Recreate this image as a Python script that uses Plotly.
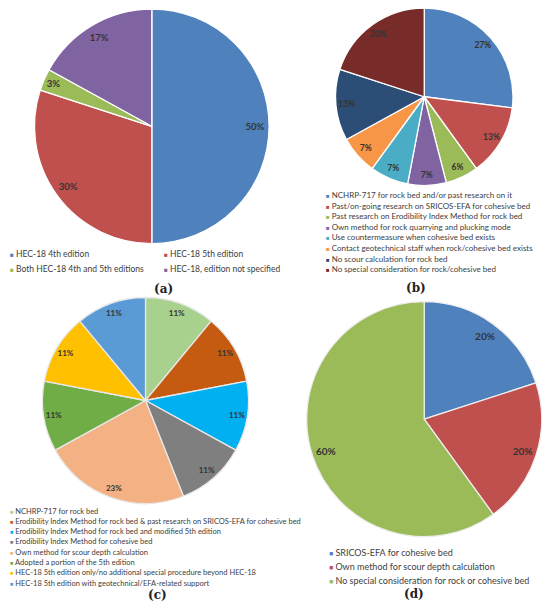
import plotly.graph_objects as go

# the page body adds an 8px margin, so the figure is drawn 8px smaller
OFF = 8
W, H = 550 - OFF, 612 - OFF

# (a) which HEC-18 edition is used
a_labels = ["HEC-18 4th edition", "HEC-18 5th edition",
            "Both HEC-18 4th and 5th editions", "HEC-18, edition not specified"]
a_values = [50, 30, 3, 17]
a_colors = ["#4F81BD", "#C0504D", "#9BBB59", "#8064A2"]

# (b) rock / cohesive bed practice
b_labels = ["NCHRP-717 for rock bed and/or past research on it",
            "Past/on-going research on SRICOS-EFA for cohesive bed",
            "Past research on Erodibility Index Method for rock bed",
            "Own method for rock quarrying and plucking mode",
            "Use countermeasure when cohesive bed exists",
            "Contact geotechnical staff when rock/cohesive bed exists",
            "No scour calculation for rock bed",
            "No special consideration for rock/cohesive bed"]
b_values = [27, 13, 6, 7, 7, 7, 13, 20]
b_colors = ["#4F81BD", "#C0504D", "#9BBB59", "#8064A2",
            "#4BACC6", "#F79646", "#2C4D75", "#772C2A"]

# (c)
c_labels = ["NCHRP-717 for rock bed",
            "Erodibility Index Method for rock bed & past research on SRICOS-EFA for cohesive bed",
            "Erodibility Index Method for rock bed and modified 5th edition",
            "Erodibility Index Method for cohesive bed",
            "Own method for scour depth calculation",
            "Adopted a portion of the 5th edition",
            "HEC-18 5th edition only/no additional special procedure beyond HEC-18",
            "HEC-18 5th edition with geotechnical/EFA-related support"]
c_values = [11, 11, 11, 11, 23, 11, 11, 11]
c_colors = ["#A9D18E", "#C55A11", "#00B0F0", "#7F7F7F",
            "#F4B183", "#70AD47", "#FFC000", "#5B9BD5"]

# (d)
d_labels = ["SRICOS-EFA for cohesive bed",
            "Own method for scour depth calculation",
            "No special consideration for rock or cohesive bed"]
d_values = [20, 20, 60]
d_colors = ["#4F81BD", "#C0504D", "#9BBB59"]

panel_names = ["(a)", "(b)", "(c)", "(d)"]

fig = go.Figure()


def px(x):
    return (x - OFF) / W


def py(y):
    return 1 - (y - OFF) / H


def clip(v):
    return min(1, max(0, v))


def add_pie(labels, values, colors, box, hole, size, edge):
    x0, y0, x1, y1 = box  # pixel box on the page, y measured from the top
    dom = dict(x=[clip(px(x0)), clip(px(x1))], y=[clip(py(y1)), clip(py(y0))])
    fig.add_trace(go.Pie(labels=labels, values=values, domain=dom, sort=False,
                         direction="clockwise", textinfo="none", showlegend=False,
                         marker=dict(colors=colors, line=dict(color=edge, width=1.3))))
    # see-through ring on top, it only carries the % labels out near the rim
    fig.add_trace(go.Pie(labels=labels, values=values, domain=dom, sort=False,
                         direction="clockwise", hole=hole, showlegend=False,
                         hoverinfo="skip",
                         marker=dict(colors=["rgba(0,0,0,0)"] * len(values),
                                     line=dict(width=0)),
                         texttemplate="<b>%{value}%</b>", textposition="inside",
                         insidetextorientation="horizontal",
                         textfont=dict(family="Lato", size=size, color="#333333")))


def add_legend(labels, colors, x, y, dy, size, cols=1, colw=0):
    for i, (lab, col) in enumerate(zip(labels, colors)):
        r, c = divmod(i, cols)
        fig.add_annotation(x=px(x + c * colw), y=py(y + r * dy),
                           xref="paper", yref="paper", xanchor="left", yanchor="middle",
                           showarrow=False,
                           text=f"<span style='color:{col};font-size:{size * 0.75:.1f}px'>■</span> {lab}",
                           font=dict(family="Lato", size=size, color="#404040"))


add_pie(a_labels, a_values, a_colors, (34.5, 9, 269.1, 243.6), 0.76, 9.5, "white")
add_pie(b_labels, b_values, b_colors, (335.5, 8, 513, 185.5), 0.76, 8.5, "white")
add_pie(c_labels, c_values, c_colors, (42.5, 297.5, 248.5, 503.5), 0.80, 8, "#E8E8E8")
add_pie(d_labels, d_values, d_colors, (306.7, 301.7, 541.7, 536.7), 0.76, 10, "#EDEDED")

add_legend(a_labels, a_colors, 8, 254, 15, 8.5, cols=2, colw=154)
add_legend(b_labels, b_colors, 324, 195, 10.6, 8)
add_legend(c_labels, c_colors, 8, 511, 10.3, 7.5)
add_legend(d_labels, d_colors, 327, 552.7, 14, 9)

for name, (lx, ly) in zip(panel_names, [(152, 289), (428, 288), (146, 604), (426, 603)]):
    fig.add_annotation(x=px(lx), y=py(ly), xref="paper", yref="paper",
                       showarrow=False, text=f"<b>{name}</b>",
                       font=dict(family="DejaVu Serif", size=12, color="#222222"))

fig.update_layout(width=W, height=H, margin=dict(l=0, r=0, t=0, b=0),
                  paper_bgcolor="white", plot_bgcolor="white", showlegend=False)

fig.write_html("out.html")
